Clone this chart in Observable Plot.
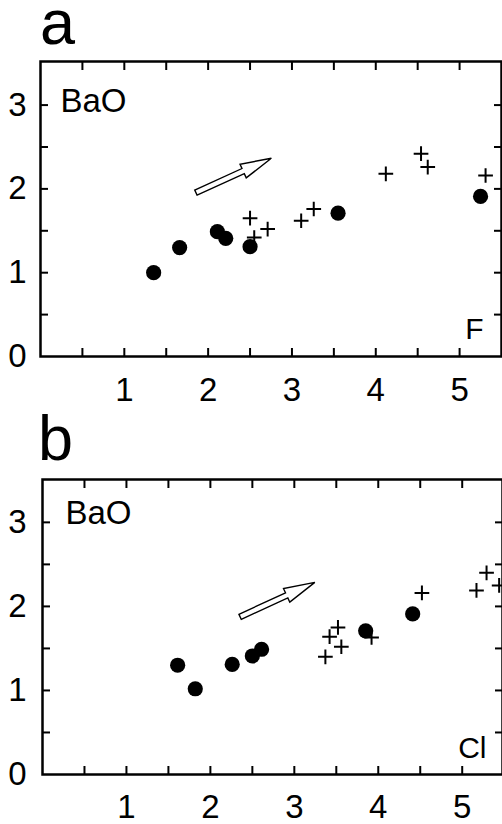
<!DOCTYPE html>
<html><head><meta charset="utf-8">
<script src="https://cdn.jsdelivr.net/npm/d3@7"></script>
<script src="https://cdn.jsdelivr.net/npm/@observablehq/plot@0.6"></script>
<style>
body{margin:0;background:#fff;font-family:"Liberation Sans",Arial,Helvetica,sans-serif;}
#wrap{position:relative;width:502px;height:824px;overflow:hidden;background:#fff;}
.panel{position:absolute;left:0;}
.letter{position:absolute;font-size:63px;line-height:44px;height:48px;color:#000;}
</style></head><body><div id="wrap"></div>
<script>
// ---- Panel a: F (x) vs BaO (y) ----
const aCircleF   = [1.35, 1.66, 2.11, 2.21, 2.50, 3.55, 5.25];
const aCircleBaO = [1.00, 1.30, 1.49, 1.41, 1.31, 1.71, 1.91];
const aPlusF     = [2.50, 2.55, 2.71, 3.11, 3.26, 4.12, 4.54, 4.62, 5.31];
const aPlusBaO   = [1.65, 1.42, 1.52, 1.62, 1.76, 2.18, 2.42, 2.26, 2.16];
const aArrowX    = [1.86, 2.76];
const aArrowY    = [1.95, 2.36];
// ---- Panel b: Cl (x) vs BaO (y) ----
const bCircleCl  = [1.61, 1.82, 2.26, 2.50, 2.61, 3.85, 4.41];
const bCircleBaO = [1.30, 1.02, 1.31, 1.41, 1.49, 1.71, 1.91];
const bPlusCl    = [3.37, 3.42, 3.52, 3.56, 3.92, 4.52, 5.17, 5.29, 5.44];
const bPlusBaO   = [1.40, 1.64, 1.75, 1.52, 1.63, 2.16, 2.19, 2.40, 2.25];
const bArrowX    = [2.36, 3.25];
const bArrowY    = [1.87, 2.28];
// ---- ticks ----
const xTickLabels = [1, 2, 3, 4, 5];
const yTickLabels = [0, 1, 2, 3];
const xTicks = [0.5, 1, 1.5, 2, 2.5, 3, 3.5, 4, 4.5, 5];
const yTicks = [0.5, 1, 1.5, 2, 2.5, 3];
const panelLetters = ["a", "b"];
const xNames = ["F", "Cl"];
const yName = "BaO";

function hollowArrow(xs, ys) {
  return (index, scales) => {
    const x1 = scales.x(xs[0]), y1 = scales.y(ys[0]);
    const x2 = scales.x(xs[1]), y2 = scales.y(ys[1]);
    const dx = x2 - x1, dy = y2 - y1, L = Math.hypot(dx, dy);
    const ux = dx / L, uy = dy / L, nx = -uy, ny = ux;
    const hl = 31, hw = 7.5, sw = 2.8;
    const bx = x2 - ux * hl, by = y2 - uy * hl;
    const P = [[x1 + nx * sw, y1 + ny * sw], [bx + nx * sw, by + ny * sw], [bx + nx * hw, by + ny * hw],
               [x2, y2], [bx - nx * hw, by - ny * hw], [bx - nx * sw, by - ny * sw], [x1 - nx * sw, y1 - ny * sw]];
    return d3.create("svg:path")
      .attr("d", "M" + P.map(p => p.map(v => v.toFixed(2)).join(",")).join("L") + "Z")
      .attr("fill", "white").attr("stroke", "black").attr("stroke-width", 1.4)
      .attr("stroke-linejoin", "miter").node();
  };
}

function panel(cfg) {
  const fs = 33;
  const fmt = d => String(d);
  return Plot.plot({
    width: 502, height: cfg.height,
    marginTop: cfg.mt, marginBottom: cfg.mb, marginLeft: cfg.ml, marginRight: cfg.mr,
    style: {fontFamily: '"Liberation Sans", Arial, Helvetica, sans-serif', fontSize: fs + "px", color: "black", background: "white", overflow: "visible"},
    x: {domain: [0, cfg.xmax]},
    y: {domain: [0, cfg.ymax]},
    marks: [
      Plot.axisX({anchor: "bottom", ticks: xTicks, tickSize: -8, tickFormat: () => "", strokeWidth: 2, label: null}),
      Plot.axisX({anchor: "top", ticks: xTicks, tickSize: -8, tickFormat: () => "", strokeWidth: 2, label: null}),
      Plot.axisY({anchor: "left", ticks: yTicks, tickSize: -8, tickFormat: () => "", strokeWidth: 2, label: null}),
      Plot.axisY({anchor: "right", ticks: yTicks, tickSize: -8, tickFormat: () => "", strokeWidth: 2, label: null}),
      Plot.axisX({anchor: "bottom", ticks: xTickLabels, tickFormat: fmt, tickSize: 0, tickPadding: cfg.xpad, fontSize: fs, label: null}),
      Plot.axisY({anchor: "left", ticks: yTickLabels, tickFormat: fmt, tickSize: 0, tickPadding: cfg.ypad, fontSize: fs, label: null}),
      Plot.frame({strokeWidth: 2.5}),
      Plot.dot(cfg.px, {x: cfg.px, y: cfg.py, symbol: "plus", r: 4.8, stroke: "black", strokeWidth: 2}),
      Plot.dot(cfg.cx, {x: cfg.cx, y: cfg.cy, r: 7.6, fill: "black", stroke: null}),
      hollowArrow(cfg.ax, cfg.ay),
      Plot.text([yName], {frameAnchor: "top-left", text: d => d, textAnchor: "start", lineAnchor: "top", dx: cfg.bdx, dy: cfg.bdy, fontSize: fs}),
      Plot.text([cfg.xname], {frameAnchor: "bottom-right", text: d => d, textAnchor: "end", lineAnchor: "bottom", dx: cfg.ndx, dy: cfg.ndy, fontSize: 30})
    ]
  });
}

const wrap = document.getElementById("wrap");
const A = panel({height: 410, mt: 61, mb: 54, ml: 40, mr: 1, xmax: 5.5, ymax: 3.52, xpad: 21, ypad: 14,
  px: aPlusF, py: aPlusBaO, cx: aCircleF, cy: aCircleBaO, ax: aArrowX, ay: aArrowY,
  xname: xNames[0], bdx: 20, bdy: 27, ndx: -18, ndy: -18});
A.classList.add("panel"); A.style.top = "0px";
wrap.appendChild(A);
const B = panel({height: 414, mt: 69, mb: 50, ml: 42, mr: 0, xmax: 5.48, ymax: 3.51, xpad: 20, ypad: 16,
  px: bPlusCl, py: bPlusBaO, cx: bCircleCl, cy: bCircleBaO, ax: bArrowX, ay: bArrowY,
  xname: xNames[1], bdx: 23, bdy: 21, ndx: -16, ndy: -17});
B.classList.add("panel"); B.style.top = "410px";
wrap.appendChild(B);

[["a", 40, 0], ["b", 38, 416]].forEach(([t, l, tp], i) => {
  const d = document.createElement("div");
  d.className = "letter"; d.textContent = panelLetters[i];
  d.style.left = l + "px"; d.style.top = tp + "px";
  wrap.appendChild(d);
});
</script>
</body></html>
